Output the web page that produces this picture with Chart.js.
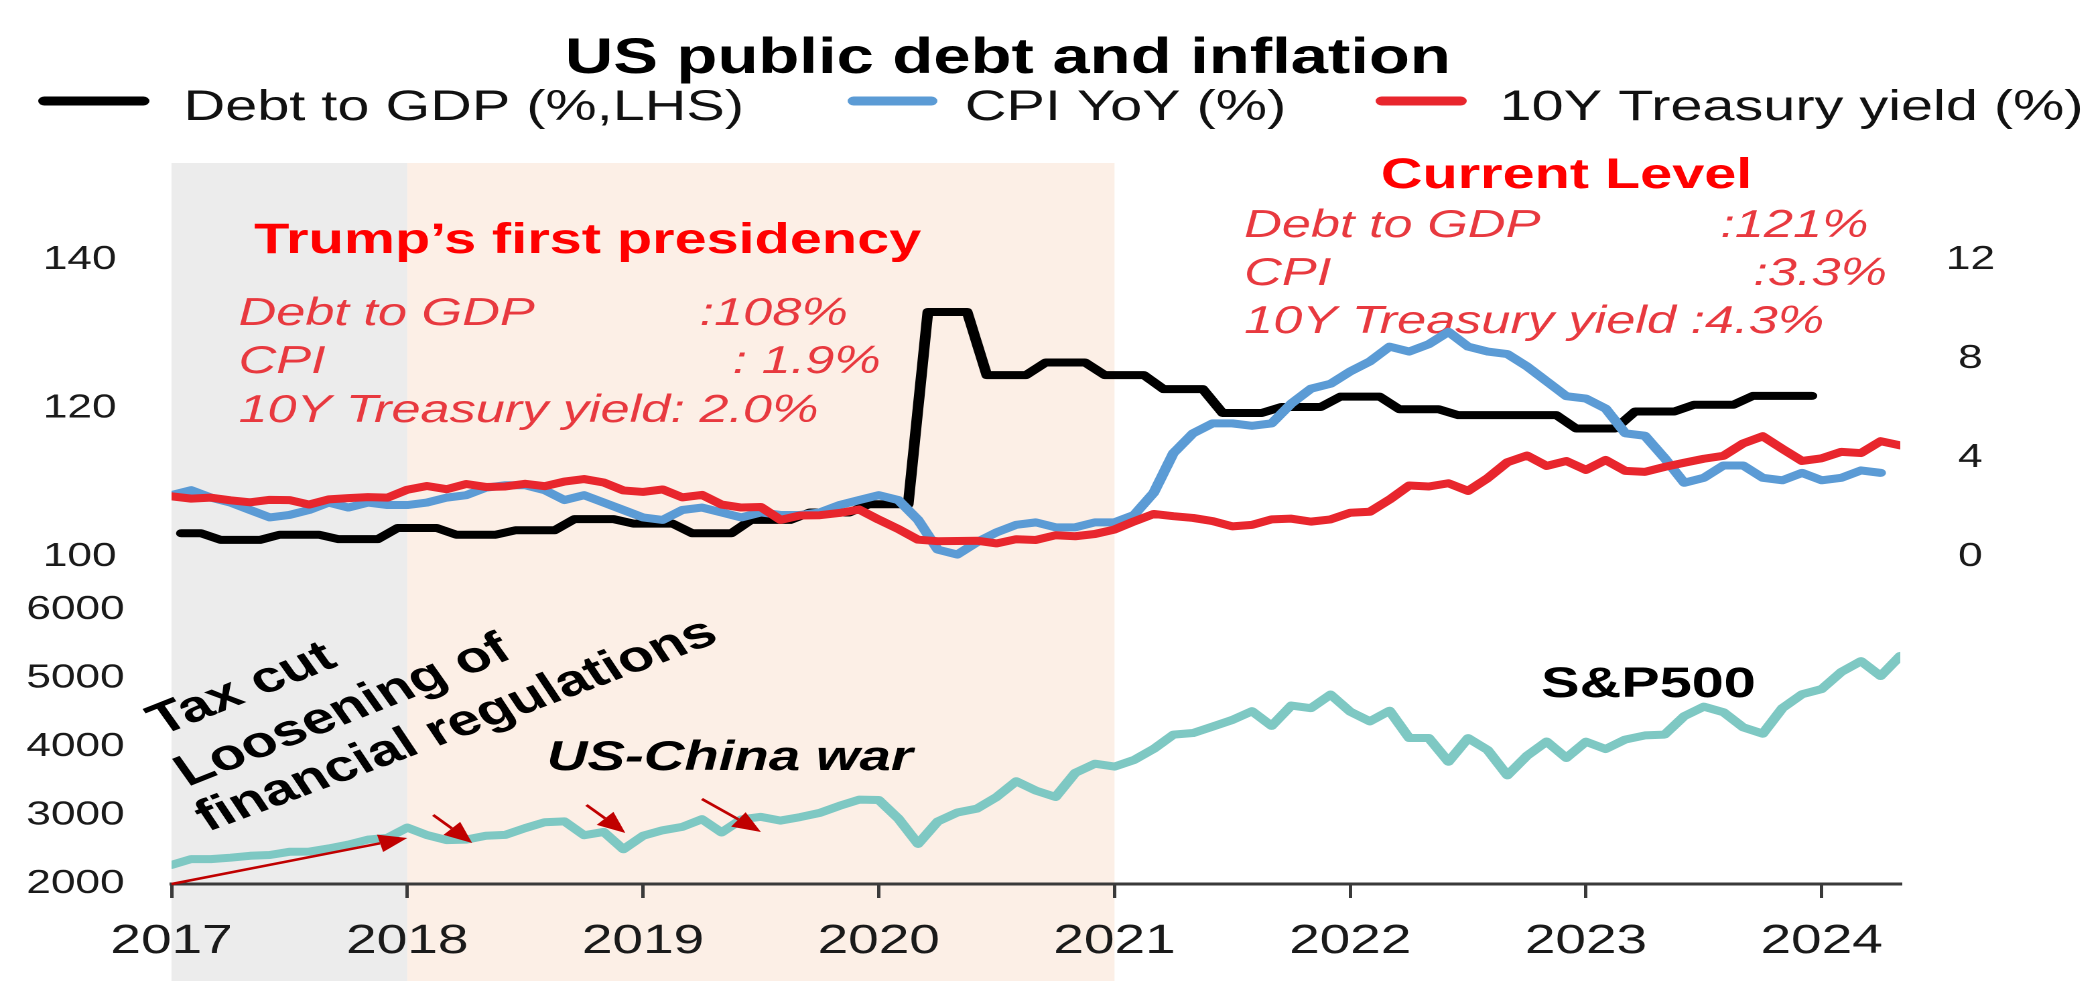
<!DOCTYPE html>
<html>
<head>
<meta charset="utf-8">
<title>US public debt and inflation</title>
<script src="https://cdn.jsdelivr.net/npm/chart.js@4.4.1/dist/chart.umd.min.js"></script>
<style>
  html, body { margin: 0; padding: 0; background: #fff; overflow: hidden; }
  /* the source picture is stretched sideways, so the chart is drawn narrow and scaled */
  #wrap { position: relative; width: 1567px; height: 981px; transform: scaleX(1.3401); transform-origin: 0 0; }
  canvas { display: block; }
</style>
</head>
<body>
<div id="wrap"><canvas id="chart"></canvas></div>
<script>
// Monthly series, first point = Jan 2017
const START_YEAR = 2017;

// Debt to GDP (%), quarterly steps, Jan 2017 - Dec 2023
const debtToGdp = [
    103.2, 103.2, 102.3, 102.3, 102.3, 103.0, 103.0, 103.0, 102.4, 102.4, 102.4, 103.9,
    103.9, 103.9, 103.0, 103.0, 103.0, 103.6, 103.6, 103.6, 105.1, 105.1, 105.1, 104.5,
    104.5, 104.5, 103.2, 103.2, 103.2, 105.0, 105.0, 105.0, 106.0, 106.0, 106.0, 107.1,
    107.1, 107.1, 133.0, 133.0, 133.0, 124.5, 124.5, 124.5, 126.2, 126.2, 126.2, 124.5,
    124.5, 124.5, 122.6, 122.6, 122.6, 119.4, 119.4, 119.4, 120.2, 120.2, 120.2, 121.6,
    121.6, 121.6, 119.9, 119.9, 119.9, 119.1, 119.1, 119.1, 119.1, 119.1, 119.1, 117.3,
    117.3, 117.3, 119.6, 119.6, 119.6, 120.5, 120.5, 120.5, 121.7, 121.7, 121.7, 121.7
];

// CPI YoY (%), Jan 2017 - Apr 2024
const cpiYoY = [
    2.5, 2.7, 2.4, 2.2, 1.9, 1.6, 1.7, 1.9, 2.2, 2.0, 2.2, 2.1,
    2.1, 2.2, 2.4, 2.5, 2.8, 2.9, 2.9, 2.7, 2.3, 2.5, 2.2, 1.9,
    1.6, 1.5, 1.9, 2.0, 1.8, 1.6, 1.8, 1.7, 1.7, 1.8, 2.1, 2.3,
    2.5, 2.3, 1.5, 0.3, 0.1, 0.6, 1.0, 1.3, 1.4, 1.2, 1.2, 1.4,
    1.4, 1.7, 2.6, 4.2, 5.0, 5.4, 5.4, 5.3, 5.4, 6.2, 6.8, 7.0,
    7.5, 7.9, 8.5, 8.3, 8.6, 9.1, 8.5, 8.3, 8.2, 7.7, 7.1, 6.5,
    6.4, 6.0, 5.0, 4.9, 4.0, 3.0, 3.2, 3.7, 3.7, 3.2, 3.1, 3.4,
    3.1, 3.2, 3.5, 3.4
];

// 10Y Treasury yield (%), month end, Jan 2017 - May 2024
const ust10y = [
    2.45, 2.36, 2.40, 2.29, 2.21, 2.31, 2.30, 2.12, 2.33, 2.38, 2.42, 2.40,
    2.72, 2.87, 2.74, 2.95, 2.83, 2.85, 2.96, 2.86, 3.05, 3.15, 3.01, 2.69,
    2.63, 2.73, 2.41, 2.51, 2.12, 2.00, 2.02, 1.50, 1.68, 1.69, 1.78, 1.92,
    1.51, 1.13, 0.70, 0.64, 0.65, 0.66, 0.55, 0.72, 0.69, 0.88, 0.84, 0.93,
    1.11, 1.44, 1.74, 1.65, 1.58, 1.45, 1.24, 1.30, 1.52, 1.55, 1.43, 1.52,
    1.79, 1.83, 2.32, 2.89, 2.85, 2.98, 2.67, 3.19, 3.83, 4.10, 3.68, 3.88,
    3.52, 3.92, 3.48, 3.44, 3.64, 3.81, 3.97, 4.09, 4.59, 4.88, 4.37, 3.88,
    3.99, 4.25, 4.20, 4.68, 4.51
];

// S&P500, month end, Jan 2017 - May 2024
const sp500 = [
    2279, 2364, 2363, 2384, 2412, 2423, 2470, 2472, 2519, 2575, 2648, 2674,
    2824, 2714, 2641, 2648, 2705, 2718, 2816, 2902, 2914, 2712, 2760, 2507,
    2704, 2784, 2834, 2946, 2752, 2942, 2980, 2926, 2977, 3038, 3141, 3231,
    3226, 2954, 2585, 2912, 3044, 3100, 3271, 3500, 3363, 3270, 3622, 3756,
    3714, 3811, 3973, 4181, 4204, 4298, 4395, 4523, 4308, 4605, 4567, 4766,
    4516, 4374, 4530, 4132, 4132, 3785, 4130, 3955, 3586, 3872, 4080, 3840,
    4077, 3970, 4109, 4169, 4180, 4450, 4589, 4508, 4288, 4194, 4568, 4770,
    4846, 5096, 5254, 5036, 5330
];

// Tick labels
const yearTicks = [2017, 2018, 2019, 2020, 2021, 2022, 2023, 2024];
const debtTicks = [100, 120, 140];
const rateTicks = [0, 4, 8, 12];
const spTicks = [2000, 3000, 4000, 5000, 6000];

// Shaded periods
const periods = [
    { from: 2017, to: 2018, color: '#ececec' },
    { from: 2018, to: 2021, color: '#fcefe6' }
];

const FONT = "'Liberation Sans', Arial, sans-serif";
const RED = '#ff0000';
const PINK_RED = '#e8393f';

// month index -> fractional year
const toPoints = (values, shift) => values.map((v, i) => ({ x: START_YEAR + (i + shift) / 12, y: v }));

const text = (ctx, s, x, y, font, color, align) => {
    ctx.font = font;
    ctx.fillStyle = color;
    ctx.textAlign = align || 'left';
    ctx.textBaseline = 'alphabetic';
    ctx.fillText(s, x, y);
};

const arrow = (ctx, x0, y0, x1, y1) => {
    const a = Math.atan2(y1 - y0, x1 - x0);
    const head = 21, half = 9;
    const bx = x1 - head * Math.cos(a), by = y1 - head * Math.sin(a);
    ctx.beginPath();
    ctx.moveTo(x0, y0);
    ctx.lineTo(bx, by);
    ctx.stroke();
    ctx.beginPath();
    ctx.moveTo(x1, y1);
    ctx.lineTo(bx + half * Math.sin(a), by - half * Math.cos(a));
    ctx.lineTo(bx - half * Math.sin(a), by + half * Math.cos(a));
    ctx.closePath();
    ctx.fill();
};

const decorations = {
    id: 'decorations',

    // white page and shaded periods
    beforeDraw(chart) {
        const { ctx, chartArea, scales: { x } } = chart;
        ctx.save();
        ctx.fillStyle = '#ffffff';
        ctx.fillRect(0, 0, chart.width, chart.height);
        periods.forEach(p => {
            const x0 = x.getPixelForValue(p.from);
            const x1 = x.getPixelForValue(p.to);
            ctx.fillStyle = p.color;
            ctx.fillRect(x0, chartArea.top + 2, x1 - x0, chart.height - chartArea.top - 2);
        });
        ctx.restore();
    },

    // text notes, under the lines
    beforeDatasetsDraw(chart) {
        const { ctx, scales: { x, yCpi, ySp } } = chart;
        const X = v => x.getPixelForValue(v);
        const R = v => yCpi.getPixelForValue(v);
        const S = v => ySp.getPixelForValue(v);
        const bold = 'bold 43px ' + FONT;
        const ital = 'italic 39px ' + FONT;
        ctx.save();

        text(ctx, 'Trump\u2019s first presidency', X(2017.35), R(12.28), bold, RED);
        text(ctx, 'Debt to GDP', X(2017.284), R(9.37), ital, PINK_RED);
        text(ctx, ':108%', X(2019.24), R(9.37), ital, PINK_RED);
        text(ctx, 'CPI', X(2017.284), R(7.43), ital, PINK_RED);
        text(ctx, ': 1.9%', X(2019.38), R(7.43), ital, PINK_RED);
        text(ctx, '10Y Treasury yield: 2.0%', X(2017.284), R(5.45), ital, PINK_RED);

        text(ctx, 'Current Level', X(2022.13), R(14.91), bold, RED);
        text(ctx, 'Debt to GDP', X(2021.55), R(12.93), ital, PINK_RED);
        text(ctx, ':121%', X(2023.57), R(12.93), ital, PINK_RED);
        text(ctx, 'CPI', X(2021.55), R(10.99), ital, PINK_RED);
        text(ctx, ':3.3%', X(2023.71), R(10.99), ital, PINK_RED);
        text(ctx, '10Y Treasury yield :4.3%', X(2021.55), R(9.05), ital, PINK_RED);

        // rotated notes on the S&P panel
        const slanted = [
            ['Tax cut', 2016.955, 4161, 28],
            ['Loosening of', 2017.068, 3416, 28],
            ['financial regulations', 2017.153, 2759, 26.5]
        ];
        slanted.forEach(([s, yr, v, deg]) => {
            ctx.save();
            ctx.translate(X(yr), S(v));
            ctx.rotate(-deg * Math.PI / 180);
            text(ctx, s, 0, 0, 'bold 44px ' + FONT, '#000000');
            ctx.restore();
        });
        text(ctx, 'US-China war', X(2018.592), S(3664), 'bold italic 42px ' + FONT, '#000000');
        text(ctx, 'S&P500', X(2022.81), S(4730), 'bold 43px ' + FONT, '#000000');
        ctx.restore();
    },

    // red arrows over the S&P line
    afterDatasetsDraw(chart) {
        const { ctx, scales: { x, ySp } } = chart;
        const arrows = [
            [2017.0, 2000, 2018.0, 2672],
            [2018.11, 3007, 2018.275, 2599],
            [2018.76, 3153, 2018.925, 2745],
            [2019.25, 3241, 2019.50, 2759]
        ];
        ctx.save();
        ctx.strokeStyle = '#c00000';
        ctx.fillStyle = '#c00000';
        ctx.lineWidth = 2.5;
        arrows.forEach(([a, b, c, d]) => {
            arrow(ctx, x.getPixelForValue(a), ySp.getPixelForValue(b), x.getPixelForValue(c), ySp.getPixelForValue(d));
        });
        ctx.restore();
    },

    // title and legend
    afterDraw(chart) {
        const { ctx } = chart;
        ctx.save();
        text(ctx, 'US public debt and inflation', 752, 73, 'bold 50px ' + FONT, '#000000', 'center');
        const slots = [
            { ds: 0, m0: 33, m1: 107, tx: 137 },
            { ds: 1, m0: 637, m1: 695, tx: 720 },
            { ds: 2, m0: 1031, m1: 1090, tx: 1119 }
        ];
        slots.forEach(s => {
            const ds = chart.data.datasets[s.ds];
            ctx.strokeStyle = ds.borderColor;
            ctx.lineWidth = 9;
            ctx.lineCap = 'round';
            ctx.beginPath();
            ctx.moveTo(s.m0, 101);
            ctx.lineTo(s.m1, 101);
            ctx.stroke();
            text(ctx, ds.label, s.tx, 120, '43px ' + FONT, '#111111');
        });
        ctx.restore();
    }
};

const tickFont = { family: FONT, size: 33 };
const plainTick = v => String(v);

const chart = new Chart(document.getElementById('chart'), {
    type: 'line',
    data: {
        datasets: [
            { label: 'Debt to GDP (%,LHS)', data: toPoints(debtToGdp, 0.5), yAxisID: 'yDebt', borderColor: '#000000', order: 3 },
            { label: 'CPI YoY (%)', data: toPoints(cpiYoY, 0), yAxisID: 'yCpi', borderColor: '#5b9bd5', order: 2 },
            { label: '10Y Treasury yield (%)', data: toPoints(ust10y, 0), yAxisID: 'yCpi', borderColor: '#e8262d', order: 1 },
            { label: 'S&P500', data: toPoints(sp500, 0), yAxisID: 'ySp', borderColor: '#7ec8c3', order: 4 }
        ]
    },
    options: {
        responsive: true,
        maintainAspectRatio: false,
        animation: false,
        devicePixelRatio: 2,
        layout: { padding: { top: 161, left: 0, right: 0, bottom: 0 } },
        elements: {
            line: { borderWidth: 8, tension: 0, borderJoinStyle: 'round', borderCapStyle: 'round', fill: false },
            point: { radius: 0 }
        },
        plugins: {
            legend: { display: false },
            title: { display: false },
            tooltip: { enabled: false }
        },
        scales: {
            x: {
                type: 'linear',
                position: 'bottom',
                min: 2017,
                max: 2024 + 4 / 12,
                afterBuildTicks: s => { s.ticks = yearTicks.map(v => ({ value: v })); },
                afterFit: s => { s.height = 97; },
                grid: { display: true, drawOnChartArea: false, drawTicks: true, tickLength: 14, color: '#3a3a3a', lineWidth: 2.5 },
                border: { display: true, color: '#3a3a3a', width: 3 },
                ticks: {
                    padding: 19,
                    maxRotation: 0,
                    autoSkip: false,
                    color: '#1a1a1a',
                    font: { family: FONT, size: 41 },
                    callback: plainTick
                }
            },
            yDebt: {
                type: 'linear',
                position: 'left',
                stack: 'left',
                stackWeight: 396,
                weight: 2,
                min: 100,
                max: 153.33,
                afterBuildTicks: s => { s.ticks = debtTicks.map(v => ({ value: v })); },
                afterFit: s => { s.width = 128; },
                grid: { display: false, drawTicks: false },
                border: { display: false },
                ticks: { padding: 41, color: '#1a1a1a', font: tickFont, callback: plainTick }
            },
            ySp: {
                type: 'linear',
                position: 'left',
                stack: 'left',
                stackWeight: 327,
                weight: 1,
                min: 2000,
                max: 6774,
                afterBuildTicks: s => { s.ticks = spTicks.map(v => ({ value: v })); },
                afterFit: s => { s.width = 128; },
                grid: { display: false, drawTicks: false },
                border: { display: false },
                ticks: { padding: 35, color: '#1a1a1a', font: tickFont, callback: plainTick }
            },
            yCpi: {
                type: 'linear',
                position: 'right',
                min: -13.21,
                max: 16,
                afterBuildTicks: s => { s.ticks = rateTicks.map(v => ({ value: v })); },
                afterFit: s => { s.width = 149; },
                grid: { display: false, drawTicks: false },
                border: { display: false },
                ticks: { padding: 34, crossAlign: 'center', color: '#1a1a1a', font: tickFont, callback: plainTick }
            }
        }
    },
    plugins: [decorations]
});
</script>
</body>
</html>
